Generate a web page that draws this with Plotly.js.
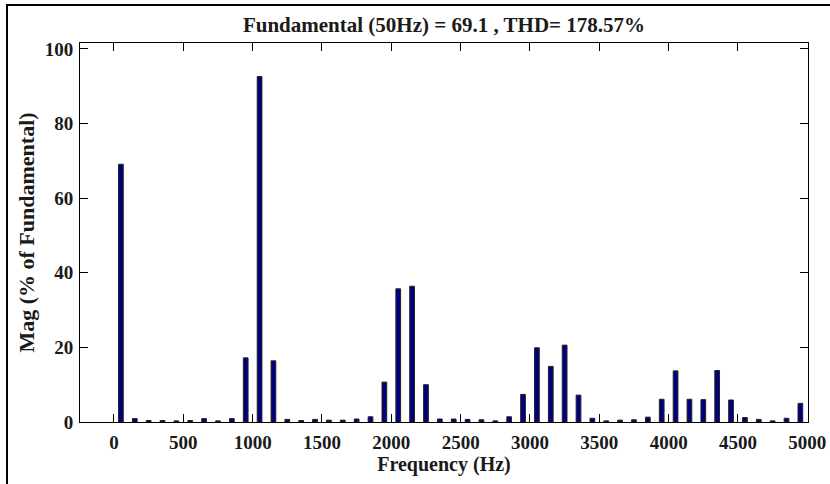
<!DOCTYPE html>
<html>
<head>
<meta charset="utf-8">
<script src="https://cdn.plot.ly/plotly-3.0.1.min.js"></script>
<style>
  html, body { margin: 0; padding: 0; background: #fff; }
  #chart { width: 830px; height: 484px; }
</style>
</head>
<body>
<div id="chart"></div>
<script>
// Harmonic spectrum: frequency of each bin (Hz)
const freqHz = [
  50, 150, 250, 350, 450, 550, 650, 750, 850, 950,
  1050, 1150, 1250, 1350, 1450, 1550, 1650, 1750, 1850, 1950,
  2050, 2150, 2250, 2350, 2450, 2550, 2650, 2750, 2850, 2950,
  3050, 3150, 3250, 3350, 3450, 3550, 3650, 3750, 3850, 3950,
  4050, 4150, 4250, 4350, 4450, 4550, 4650, 4750, 4850, 4950
];

// Magnitude of each bin, % of fundamental
const magPct = [
  69.1, 0.9, 0.4, 0.4, 0.3, 0.4, 0.9, 0.3, 0.9, 17.2,
  92.6, 16.4, 0.7, 0.4, 0.7, 0.5, 0.5, 0.8, 1.4, 10.7,
  35.7, 36.4, 10.0, 0.8, 0.8, 0.7, 0.6, 0.3, 1.4, 7.4,
  19.9, 14.9, 20.6, 7.2, 1.0, 0.3, 0.5, 0.6, 1.3, 6.1,
  13.7, 6.1, 6.0, 13.8, 5.9, 1.2, 0.7, 0.3, 1.0, 5.0
];

const xTicks = [0, 500, 1000, 1500, 2000, 2500, 3000, 3500, 4000, 4500, 5000];
const yTicks = [0, 20, 40, 60, 80, 100];

const fundamental = 69.1;
const thd = 178.57;

const serif = { family: '"Liberation Serif", "Times New Roman", serif', weight: 'bold', color: '#1a1a1a' };

const trace = {
  type: 'bar',
  x: freqHz,
  y: magPct,
  width: 34,
  marker: { color: '#00007f', line: { color: '#222', width: 1 } },
  hoverinfo: 'x+y'
};

const axisCommon = {
  showgrid: false,
  zeroline: false,
  showline: true,
  linecolor: '#000',
  linewidth: 1,
  mirror: 'ticks',
  ticks: 'inside',
  ticklen: 8,
  tickwidth: 1,
  tickcolor: '#000',
  tickfont: Object.assign({ size: 19 }, serif)
};

const layout = {
  width: 830,
  height: 484,
  margin: { l: 80, r: 22, t: 43, b: 62 },
  paper_bgcolor: '#fff',
  plot_bgcolor: '#fff',
  showlegend: false,
  bargap: 0,
  title: {
    text: 'Fundamental (50Hz) = ' + fundamental + ' , THD= ' + thd + '%',
    font: Object.assign({ size: 21 }, serif),
    x: 0.5, xref: 'paper', xanchor: 'center',
    y: 1 - 25 / 484, yref: 'container', yanchor: 'middle'
  },
  xaxis: Object.assign({}, axisCommon, {
    range: [-245, 5005],
    tickvals: xTicks,
    ticktext: xTicks.map(String),
    ticklabelstandoff: 3,
    title: { text: 'Frequency (Hz)', font: Object.assign({ size: 20 }, serif), standoff: 4 }
  }),
  yaxis: Object.assign({}, axisCommon, {
    range: [0, 101.6],
    tickvals: yTicks,
    ticktext: yTicks.map(String),
    ticklabelstandoff: 2,
    title: { text: 'Mag (% of Fundamental)', font: Object.assign({ size: 22 }, serif), standoff: 4 }
  }),
  shapes: [{
    // outer figure frame
    type: 'rect', xref: 'paper', yref: 'paper',
    x0: (7 - 80) / 728, x1: 1.2,
    y0: -0.3, y1: 1 + (43 - 5) / 378.7,
    line: { color: '#000', width: 2 },
    fillcolor: 'rgba(0,0,0,0)',
    layer: 'below'
  }]
};

Plotly.newPlot('chart', [trace], layout, { displayModeBar: false, staticPlot: true });
</script>
</body>
</html>
